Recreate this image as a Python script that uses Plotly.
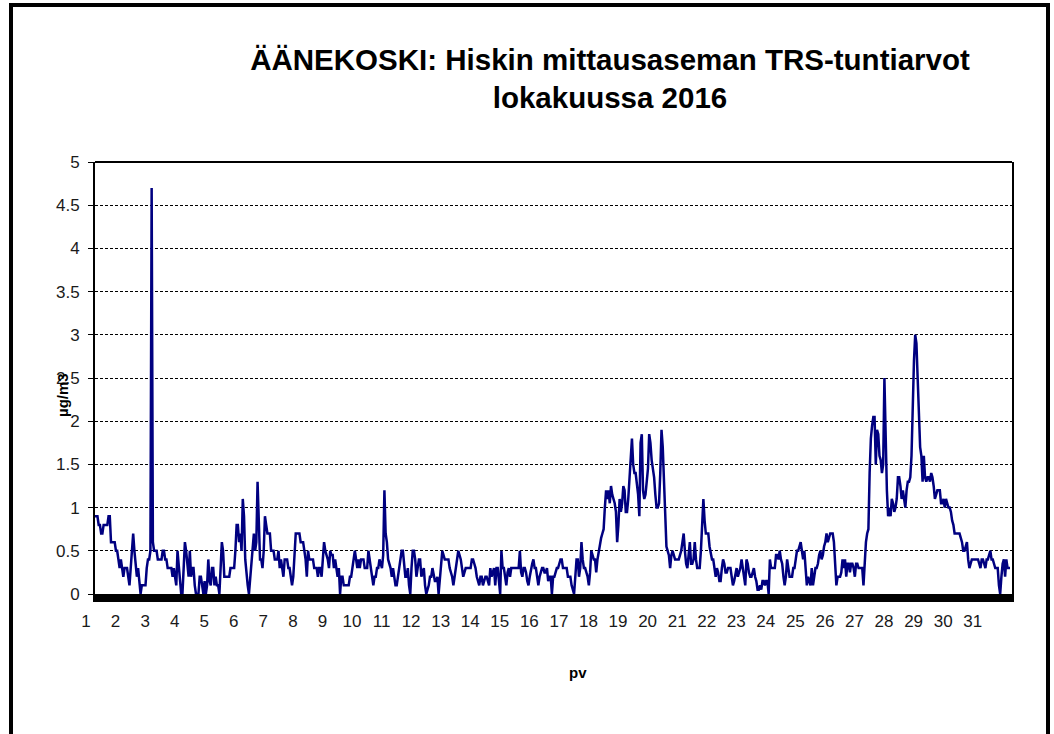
import plotly.graph_objects as go

# Hourly TRS values (µg/m3), October 2016, one list per day (24 hours each)
oct01 = [0.9,0.9,0.9,0.8,0.8,0.7,0.7,0.8,0.8,0.8,0.8,0.9,0.9,0.6,0.6,0.6,0.6,0.5,0.5,0.4,0.3,0.4,0.3,0.2]
oct02 = [0.3,0.3,0.3,0.2,0.1,0.3,0.5,0.7,0.5,0.3,0.2,0.3,0.1,0,0.1,0.1,0.1,0.1,0.3,0.4,0.4,0.5,4.7,0.6]
oct03 = [0.5,0.5,0.5,0.4,0.4,0.4,0.4,0.5,0.5,0.4,0.4,0.3,0.3,0.3,0.3,0.2,0.3,0.2,0.1,0.5,0.3,0.1,0,0]
oct04 = [0.4,0.6,0.5,0.3,0.2,0.5,0.2,0.3,0.3,0.1,0,0,0,0.2,0.2,0.1,0,0.15,0,0.1,0.4,0.15,0.1,0.3]
oct05 = [0.3,0.1,0.2,0.1,0.1,0,0.4,0.6,0.5,0.2,0.2,0.2,0.2,0.2,0.3,0.3,0.3,0.3,0.5,0.8,0.8,0.6,0.7,0.5]
oct06 = [1.1,0.9,0.4,0.2,0.1,0,0.2,0.3,0.5,0.7,0.5,0.6,1.3,0.8,0.4,0.4,0.3,0.5,0.9,0.8,0.7,0.7,0.7,0.5]
oct07 = [0.5,0.5,0.4,0.4,0.4,0.5,0.3,0.4,0.3,0.2,0.4,0.4,0.4,0.3,0.3,0.2,0.1,0.2,0.5,0.7,0.7,0.7,0.7,0.6]
oct08 = [0.6,0.6,0.5,0.4,0.2,0.5,0.4,0.4,0.4,0.4,0.3,0.3,0.3,0.2,0.3,0.3,0.2,0.4,0.6,0.5,0.45,0.4,0.3,0.5]
oct09 = [0.45,0.45,0.3,0.4,0.3,0.2,0.3,0,0.2,0.2,0.1,0.1,0.1,0.1,0.1,0.2,0.2,0.3,0.4,0.5,0.4,0.3,0.4,0.3]
oct10 = [0.4,0.4,0.4,0.3,0.3,0.3,0.5,0.4,0.3,0.2,0.1,0.2,0.2,0.3,0.3,0.4,0.35,0.3,0.45,1.2,0.7,0.6,0.4,0.35]
oct11 = [0.3,0.2,0.3,0.2,0.1,0.1,0.2,0.3,0.4,0.5,0.5,0.3,0.2,0.2,0.3,0.1,0,0.3,0.5,0.5,0.4,0.2,0.3,0.4]
oct12 = [0.4,0.2,0.25,0.3,0.1,0,0.05,0.1,0.2,0.2,0.3,0.2,0.15,0.15,0.2,0,0.2,0.4,0.5,0.45,0.4,0.4,0.4,0.4]
oct13 = [0.3,0.25,0.2,0.1,0.2,0.3,0.4,0.5,0.45,0.4,0.3,0.2,0.25,0.3,0.3,0.3,0.3,0.3,0.4,0.4,0.35,0.3,0.2,0.15]
oct14 = [0.1,0.2,0.2,0.1,0.15,0.2,0.2,0.15,0.1,0.3,0.2,0.25,0.3,0.1,0.3,0.3,0.15,0,0.5,0.3,0.3,0.2,0.1,0.25]
oct15 = [0.3,0.2,0.3,0.3,0.3,0.3,0.3,0.3,0.3,0.5,0.25,0.2,0.3,0.3,0.25,0.15,0.1,0.2,0.3,0.35,0.4,0.3,0.3,0.2]
oct16 = [0.1,0.2,0.25,0.3,0.3,0.25,0.25,0.3,0.15,0.2,0.2,0,0.2,0.2,0.25,0.3,0.3,0.35,0.4,0.4,0.3,0.3,0.3,0.3]
oct17 = [0.2,0.2,0.2,0.1,0.05,0,0.2,0.4,0.4,0.2,0.3,0.6,0.4,0.3,0.3,0.25,0.2,0.1,0.25,0.5,0.45,0.4,0.4,0.25]
oct18 = [0.4,0.5,0.55,0.65,0.7,0.75,1.0,1.2,1.1,1.2,1.05,1.25,1.15,1.1,1.05,0.95,0.6,0.8,1.1,0.95,1.05,1.25,1.2,0.95]
oct19 = [0.95,1.1,1.3,1.6,1.8,1.5,1.4,1.4,1.3,1.15,0.9,1.75,1.85,1.2,1.1,1.15,1.3,1.45,1.85,1.75,1.55,1.45,1.35,1.15]
oct20 = [1.0,1.0,1.05,1.4,1.9,1.7,1.3,0.8,0.55,0.5,0.45,0.3,0.45,0.5,0.45,0.4,0.4,0.4,0.4,0.45,0.5,0.6,0.7,0.5]
oct21 = [0.35,0.3,0.45,0.6,0.35,0.35,0.4,0.6,0.4,0.3,0.3,0.3,0.5,0.8,1.1,0.85,0.7,0.7,0.7,0.55,0.45,0.4,0.4,0.3]
oct22 = [0.2,0.3,0.25,0.15,0.15,0.3,0.4,0.35,0.25,0.25,0.3,0.3,0.3,0.2,0.1,0.15,0.25,0.3,0.2,0.25,0.3,0.4,0.3,0.15]
oct23 = [0.1,0.4,0.35,0.25,0.2,0.2,0.25,0.3,0.2,0.15,0.05,0.05,0.1,0.05,0.15,0.15,0.1,0.15,0.15,0,0.4,0.3,0.3,0.3]
oct24 = [0.3,0.45,0.45,0.4,0.5,0.4,0.35,0.2,0.1,0.2,0.4,0.3,0.2,0.2,0.2,0.3,0.3,0.4,0.5,0.5,0.55,0.6,0.5,0.4]
oct25 = [0.5,0.3,0.1,0.2,0.15,0.1,0.3,0.1,0.2,0.3,0.3,0.35,0.45,0.5,0.4,0.45,0.55,0.6,0.7,0.6,0.65,0.7,0.7,0.7]
oct26 = [0.6,0.4,0.1,0.2,0.2,0.2,0.25,0.4,0.3,0.4,0.2,0.35,0.35,0.25,0.35,0.35,0.3,0.2,0.35,0.35,0.3,0.3,0.3,0.3]
oct27 = [0.1,0.4,0.6,0.7,0.75,1.4,1.8,1.95,2.05,2.05,1.5,1.9,1.85,1.6,1.55,1.4,1.5,2.5,1.7,1.2,0.9,1.0,0.9,1.1]
oct28 = [1.05,0.95,1.0,1.1,1.35,1.35,1.25,1.1,1.2,1.1,1.0,1.2,1.3,1.3,1.35,1.6,2.2,2.7,3.0,2.9,2.5,2.1,1.7,1.6]
oct29 = [1.3,1.6,1.35,1.3,1.35,1.35,1.3,1.4,1.35,1.25,1.1,1.15,1.2,1.2,1.2,1.05,1.05,1.1,1.0,1.1,1.05,1.0,1.0,0.95]
oct30 = [0.85,0.8,0.7,0.7,0.7,0.7,0.7,0.65,0.6,0.5,0.5,0.55,0.6,0.4,0.3,0.35,0.4,0.4,0.4,0.4,0.4,0.4,0.35,0.3]
oct31 = [0.4,0.4,0.35,0.3,0.4,0.4,0.45,0.5,0.4,0.4,0.35,0.3,0.3,0.3,0.1,0,0.2,0.35,0.4,0.2,0.4,0.3,0.3,0.3]

days = [oct01, oct02, oct03, oct04, oct05, oct06, oct07, oct08, oct09, oct10,
        oct11, oct12, oct13, oct14, oct15, oct16, oct17, oct18, oct19, oct20,
        oct21, oct22, oct23, oct24, oct25, oct26, oct27, oct28, oct29, oct30, oct31]

day_labels = [str(d) for d in range(1, 32)]
y_ticks = [0, 0.5, 1, 1.5, 2, 2.5, 3, 3.5, 4, 4.5, 5]

values = [v for day in days for v in day]
hours = list(range(len(values)))
tick_hours = [24 * k for k in range(len(day_labels))]

FONT = "Arial, 'Liberation Sans', sans-serif"

fig = go.Figure()
fig.add_trace(go.Scatter(
    x=hours, y=values, mode="lines",
    line=dict(color="#000080", width=2.5),
    showlegend=False, hoverinfo="skip",
))

W, H = 1054, 734
L, R, T, B = 95, 42, 162, 140
pw, ph = W - L - R, H - T - B

def px(x):
    return (x - L) / pw

def py(y):
    return (H - B - y) / ph

fig.update_layout(
    width=W, height=H,
    margin=dict(l=L, r=R, t=T, b=B, pad=0),
    paper_bgcolor="white", plot_bgcolor="white",
    font=dict(family=FONT, color="#1a1a1a", size=17),
    title=dict(
        text="<b>ÄÄNEKOSKI: Hiskin mittausaseman TRS-tuntiarvot<br>lokakuussa 2016</b>",
        xref="paper", x=px(610), xanchor="center",
        yref="container", y=1 - 70 / H, yanchor="top",
        font=dict(family=FONT, size=29.5, color="black"),
    ),
    xaxis=dict(
        range=[0, 744.6], tickmode="array", tickvals=tick_hours, ticktext=day_labels,
        showgrid=False, zeroline=False, showline=True, linecolor="black", linewidth=8,
        ticks="", ticklabelshift=-9, ticklabelstandoff=5,
        tickfont=dict(size=17, color="#1a1a1a"),
    ),
    yaxis=dict(
        range=[0, 5], tickmode="array", tickvals=y_ticks,
        ticktext=[("%g" % t) for t in y_ticks],
        showgrid=True, gridcolor="black", gridwidth=1, griddash="3px,2px",
        zeroline=False, showline=True, linecolor="black", linewidth=2, mirror=True,
        ticks="outside", ticklen=5, tickcolor="black", tickwidth=1,
        ticklabelstandoff=5,
        tickfont=dict(size=17, color="#1a1a1a"),
    ),
    annotations=[
        dict(text="<b>µg/m3</b>", xref="paper", yref="paper", x=px(62), y=py(395),
             textangle=-90, showarrow=False, xanchor="center", yanchor="middle",
             font=dict(family=FONT, size=15, color="black")),
        dict(text="<b>pv</b>", xref="paper", yref="paper", x=px(578), y=py(672),
             showarrow=False, xanchor="center", yanchor="middle",
             font=dict(family=FONT, size=15, color="black")),
    ],
    shapes=[
        # top border of the plot area
        dict(type="line", xref="paper", yref="paper", x0=0, x1=1, y0=1, y1=1,
             line=dict(color="black", width=2)),
        # outer chart frame
        dict(type="rect", xref="paper", yref="paper",
             x0=px(11), x1=px(1048), y0=py(745), y1=py(5),
             line=dict(color="black", width=4), fillcolor="rgba(0,0,0,0)", layer="above"),
    ],
)

fig.write_html(
    "out.html",
    config={"displayModeBar": False},
    post_script="document.body.style.margin='0';document.body.style.overflow='hidden';",
)
